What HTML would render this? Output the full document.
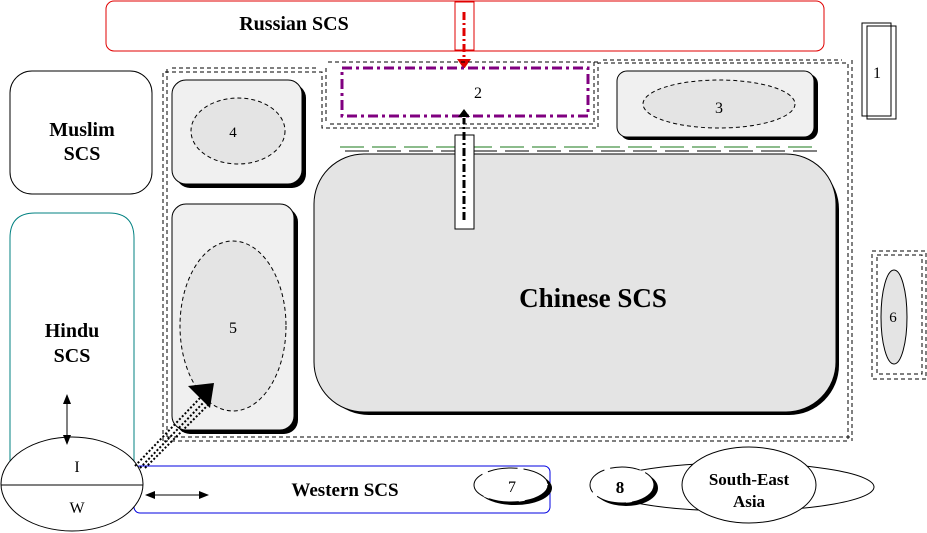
<!DOCTYPE html>
<html><head><meta charset="utf-8"><style>
html,body{margin:0;padding:0;background:#fff;width:927px;height:533px;overflow:hidden}
text{font-family:"Liberation Serif",serif;fill:#000}
.b{font-weight:bold}
</style></head><body>
<svg width="927" height="533" viewBox="0 0 927 533" xmlns="http://www.w3.org/2000/svg">
<defs>
<marker id="ahs" markerWidth="10" markerHeight="10" refX="9" refY="5" orient="auto-start-reverse" markerUnits="userSpaceOnUse"><path d="M0,1 L10,5 L0,9 z" fill="#000"/></marker>
</defs>
<rect x="106" y="1" width="718" height="50" rx="8" fill="#fff" stroke="#e00000" stroke-width="1"/>
<text x="294" y="30" font-size="20" class="b" text-anchor="middle">Russian SCS</text>
<rect x="455" y="2" width="19" height="48" fill="none" stroke="#e00000"/>
<line x1="464" y1="12" x2="464" y2="60" stroke="#e00000" stroke-width="3" stroke-dasharray="8,3,2,3"/>
<path d="M457,59 L471,59 L464,69 z" fill="#e00000"/>
<g fill="none" stroke="#000" stroke-dasharray="4,3">
<path d="M163,441 L163,72 L322,72 L322,128 L598,128 L598,63 L848,63 L848,441 Z"/>
<path d="M167,437 L167,68 M172,68 L318,68 M326,68 L326,124 M328,62 L598,62 M603,60 L842,60 M852,60 L852,441 M167,437 L852,437"/>
<path d="M330,124 L594,124 L594,62"/>
<rect x="872" y="251" width="54" height="128"/>
<rect x="877" y="255" width="45" height="119"/>
</g>
<line x1="340" y1="147" x2="820" y2="147" stroke="#1a7a1a" stroke-dasharray="24,8"/>
<line x1="345" y1="151" x2="825" y2="151" stroke="#000" stroke-dasharray="24,8"/>
<rect x="342" y="68" width="246" height="48" fill="#fff" stroke="#800080" stroke-width="3" stroke-dasharray="10,4,3,4"/>
<text x="478" y="98" font-size="16" text-anchor="middle">2</text>
<rect x="10" y="71" width="142" height="123" rx="22" fill="#fff" stroke="#000"/>
<text x="82" y="136" font-size="20" class="b" text-anchor="middle">Muslim</text>
<text x="82" y="160" font-size="20" class="b" text-anchor="middle">SCS</text>
<path d="M10,478 L10,238 Q10,213 35,213 L109,213 Q134,213 134,238 L134,478" fill="#fff" stroke="#008080"/>
<text x="72" y="337" font-size="20" class="b" text-anchor="middle">Hindu</text>
<text x="72" y="362" font-size="20" class="b" text-anchor="middle">SCS</text>
<rect x="176" y="84" width="130" height="104" rx="14" fill="#000"/>
<rect x="172" y="80" width="130" height="104" rx="14" fill="#f0f0f0" stroke="#000"/>
<ellipse cx="238" cy="131" rx="47" ry="33" fill="#e4e4e4" stroke="#000" stroke-dasharray="4,3"/>
<text x="233" y="137" font-size="15" text-anchor="middle" font-family="Liberation Sans">4</text>
<rect x="176" y="208" width="122" height="226" rx="14" fill="#000"/>
<rect x="172" y="204" width="122" height="226" rx="14" fill="#f0f0f0" stroke="#000"/>
<ellipse cx="233" cy="326" rx="53" ry="85" fill="#e4e4e4" stroke="#000" stroke-dasharray="4,3"/>
<text x="233" y="333" font-size="16" text-anchor="middle">5</text>
<rect x="620" y="74" width="198" height="66" rx="10" fill="#000"/>
<rect x="617" y="71" width="197" height="66" rx="10" fill="#f0f0f0" stroke="#000"/>
<ellipse cx="719" cy="104" rx="76" ry="24" fill="#e4e4e4" stroke="#000" stroke-dasharray="4,3"/>
<text x="719" y="113" font-size="16" text-anchor="middle">3</text>
<rect x="319" y="159" width="520" height="256" rx="50" fill="#000"/>
<rect x="314" y="154" width="522" height="258" rx="50" fill="#e4e4e4" stroke="#000"/>
<text x="593" y="307" font-size="27" class="b" text-anchor="middle">Chinese SCS</text>
<rect x="455" y="135" width="19" height="94" fill="#fff" stroke="#000"/>
<line x1="464" y1="220" x2="464" y2="118" stroke="#000" stroke-width="3" stroke-dasharray="8,3,2,3"/>
<path d="M458,117 L470,117 L464,109 z" fill="#000"/>
<rect x="862" y="23" width="29" height="93" fill="#fff" stroke="#000"/>
<rect x="867" y="26" width="29" height="93" fill="none" stroke="#000"/>
<text x="877" y="78" font-size="16" text-anchor="middle">1</text>
<ellipse cx="894" cy="317" rx="13" ry="47" fill="#e4e4e4" stroke="#000"/>
<text x="893" y="322" font-size="15" text-anchor="middle">6</text>
<rect x="134" y="466" width="416" height="47" rx="6" fill="#fff" stroke="#0000e0"/>
<text x="345" y="496" font-size="19" class="b" text-anchor="middle">Western SCS</text>
<ellipse cx="72" cy="484" rx="71" ry="47" fill="#fff" stroke="#000"/>
<line x1="1" y1="485" x2="143" y2="485" stroke="#000"/>
<text x="77" y="472" font-size="16" text-anchor="middle">I</text>
<text x="77" y="513" font-size="16" text-anchor="middle">W</text>
<line x1="67" y1="395" x2="67" y2="444" stroke="#000" marker-start="url(#ahs)" marker-end="url(#ahs)"/>
<line x1="146" y1="495" x2="208" y2="495" stroke="#000" marker-start="url(#ahs)" marker-end="url(#ahs)"/>
<g stroke="#000" stroke-width="2" stroke-dasharray="2,2">
<line x1="135" y1="466" x2="200" y2="398"/>
<line x1="140" y1="468" x2="204" y2="402"/>
<line x1="145" y1="468" x2="208" y2="405"/>
</g>
<path d="M188,386 L214,383 L210,408 Z" fill="#000"/>
<ellipse cx="515" cy="488" rx="37" ry="17" fill="#000"/>
<ellipse cx="511" cy="485" rx="37" ry="17" fill="#fff" stroke="#000" stroke-dasharray="30,6"/>
<text x="512" y="492" font-size="16" text-anchor="middle">7</text>
<ellipse cx="738" cy="487" rx="136" ry="24" fill="none" stroke="#000"/>
<ellipse cx="626" cy="488" rx="32" ry="18" fill="#000"/>
<ellipse cx="622" cy="485" rx="32" ry="18" fill="#fff" stroke="#000" stroke-dasharray="30,6"/>
<text x="620" y="493" font-size="17" class="b" text-anchor="middle">8</text>
<ellipse cx="749" cy="485" rx="67" ry="38" fill="#fff" stroke="#000"/>
<text x="749" y="485" font-size="17" class="b" text-anchor="middle">South-East</text>
<text x="749" y="507" font-size="17" class="b" text-anchor="middle">Asia</text>
</svg>
</body></html>
